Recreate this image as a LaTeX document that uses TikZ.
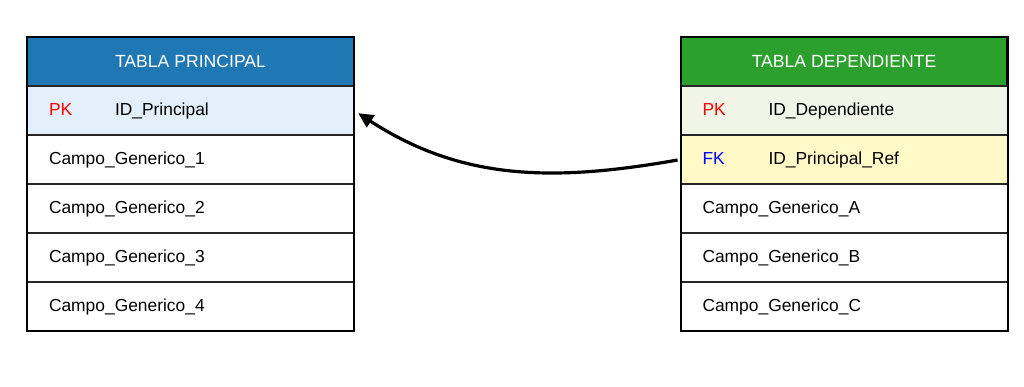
\documentclass[tikz,border=0pt]{standalone}
\usepackage{fontspec}
\setmainfont{Liberation Sans}
\usetikzlibrary{positioning,arrows.meta}
\definecolor{headblue}{RGB}{31,119,180}
\definecolor{headgreen}{RGB}{44,160,44}
\definecolor{softblue}{RGB}{227,240,251}
\definecolor{softgreen}{RGB}{240,245,232}
\definecolor{softyellow}{RGB}{255,249,200}
\definecolor{pkred}{RGB}{255,0,0}
\definecolor{fkblue}{RGB}{0,0,255}
\tikzset{
  head/.style={rectangle,draw=black,line width=2pt,outer sep=0pt,minimum width=327pt,minimum height=49pt,text=white,font=\fontsize{17.6}{20}\selectfont},
  field/.style={rectangle,draw=black!85,line width=1.4pt,outer sep=0pt,minimum width=327pt,minimum height=49pt,text width=283pt,inner xsep=22pt,align=left,fill=white,font=\fontsize{17.4}{20}\selectfont},
  frame/.style={draw=black,line width=2pt},
  link/.style={-{Triangle[length=15pt,width=14pt]},line width=3.2pt}
}
\newcommand{\keytag}[2]{\makebox[66pt][l]{\color{#1}#2}}

\begin{document}
\begin{tikzpicture}
  \useasboundingbox (0,0) rectangle (1024pt,-386pt);
  % tabla principal
  \node[head,fill=headblue] (ppal) at (190.5pt,-61.5pt) {TABLA PRINCIPAL};
  \node[field,fill=softblue,below=0pt of ppal] (ppalpk) {\keytag{pkred}{PK}ID\_Principal};
  \node[field,below=0pt of ppalpk] (ppal1) {Campo\_Generico\_1};
  \node[field,below=0pt of ppal1] (ppal2) {Campo\_Generico\_2};
  \node[field,below=0pt of ppal2] (ppal3) {Campo\_Generico\_3};
  \node[field,below=0pt of ppal3] (ppal4) {Campo\_Generico\_4};
  \draw[frame] (ppal.north west) rectangle (ppal4.south east);
  % tabla dependiente
  \node[head,fill=headgreen,minimum width=326pt] (dep) at (844pt,-61.5pt) {TABLA DEPENDIENTE};
  \node[field,fill=softgreen,minimum width=326pt,below=0pt of dep] (deppk) {\keytag{pkred}{PK}ID\_Dependiente};
  \node[field,fill=softyellow,minimum width=326pt,below=0pt of deppk] (depfk) {\keytag{fkblue}{FK}ID\_Principal\_Ref};
  \node[field,minimum width=326pt,below=0pt of depfk] (depa) {Campo\_Generico\_A};
  \node[field,minimum width=326pt,below=0pt of depa] (depb) {Campo\_Generico\_B};
  \node[field,minimum width=326pt,below=0pt of depb] (depc) {Campo\_Generico\_C};
  \draw[frame] (dep.north west) rectangle (depc.south east);
  % relacion
  \draw[link,shorten <=3pt,shorten >=5pt] (depfk.west) to[out=190,in=-33] (ppalpk.east);
\end{tikzpicture}
\end{document}
